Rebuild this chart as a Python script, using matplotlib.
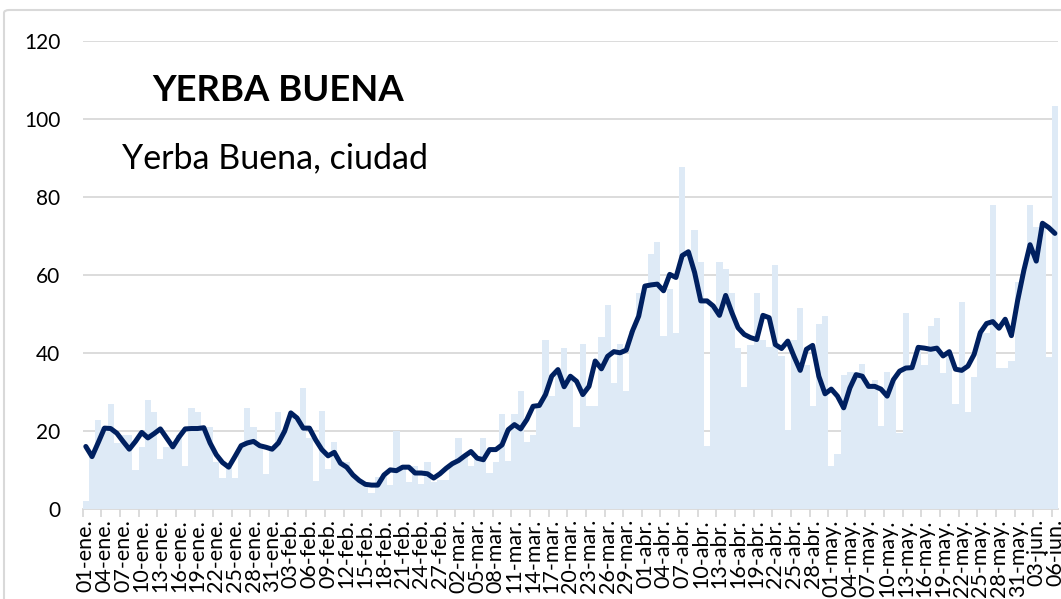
import matplotlib
matplotlib.use("Agg")
import matplotlib.pyplot as plt
from matplotlib.patches import FancyBboxPatch
import numpy as np
import datetime as dt

# ---------------- data ----------------
start = dt.date(2021, 1, 1)
n_days = 157
meses = ["ene", "feb", "mar", "abr", "may", "jun"]
dates = [start + dt.timedelta(days=k) for k in range(n_days)]
date_labels = [f"{d.day:02d}-{meses[d.month-1]}." for d in dates]

casos = [
    2, 14, 23, 21, 27, 17, 19, 19, 10, 16, 28, 25, 13, 16, 16, 19, 11, 26, 25, 21,
    21, 12, 8, 11, 8, 16, 26, 21, 16, 9, 15,
    25, 20, 24.5, 23, 31, 18.3, 7.2, 25.3, 10.3, 17.2, 12.5, 12, 9, 7.5, 6.4, 4.1, 8.2, 9, 6.3,
    20, 10.8, 7.1, 11, 6.5, 12.1, 7, 7.4, 7.4,
    11.5, 18.3, 13.5, 11.2, 13, 18.3, 9.3, 12.1, 24.3, 12.3, 24.3, 30.2, 17.2, 19.1, 26.5, 43.4,
    29.1, 35.8, 41.4, 34, 21.2, 42.4, 26.4, 26.4, 44.2, 52.4, 32.4, 42.4, 30.2, 45.7, 55.4,
    57.2, 65.4, 68.6, 44.4, 56.4, 45.2, 87.7, 66, 71.6, 63.4, 16.3, 52.1, 63.4, 61.5, 55.4,
    41.4, 31.3, 42.2, 55.4, 43.5, 41.6, 62.6, 39.2, 20.2, 43.5, 51.5, 37.1, 26.4, 47.4, 49.5,
    11.1, 14.2, 34.3, 35.2, 35.2, 37.3, 31.5, 33.2, 21.3, 35.2, 33.2, 19.5, 50.3, 36.3, 41.5,
    37.0, 47.0, 49.0, 35.0, 40.4, 26.9, 53.0, 25.0, 33.9, 45.3, 45.1, 78.1, 36.1, 36.1, 38.0,
    58.2,
    61.2, 78.1, 72.3, 73.3, 38.9, 103.3,
]

promedio = [
    16.1, 13.5, 17.1, 20.8, 20.7, 19.5, 17.4, 15.4, 17.4, 19.7, 18.3, 19.4, 20.6, 18.3, 16.0,
    18.5, 20.6, 20.7, 20.7, 20.9, 17.0, 14.0, 12.0, 10.8, 13.5, 16.3, 17.0, 17.4, 16.3, 15.9,
    15.4,
    17.0, 20.0, 24.7, 23.4, 20.8, 20.8, 17.8, 15.3, 13.7, 14.6, 11.8, 10.8, 8.8, 7.4, 6.4,
    6.2, 6.2, 8.8, 10.1, 9.9, 10.8, 10.8, 9.3, 9.3, 9.1, 8.0, 9.1, 10.5,
    11.7, 12.5, 13.7, 14.8, 13.1, 12.7, 15.3, 15.3, 16.5, 20.4, 21.7, 20.6, 23.0, 26.4, 26.6,
    29.4, 34.1, 35.8, 31.4, 34.1, 32.8, 29.4, 31.5, 38.0, 36.0, 39.2, 40.4, 40.1, 40.8, 45.7,
    49.5,
    57.2, 57.5, 57.7, 56.0, 60.2, 59.4, 65.0, 66.0, 60.7, 53.4, 53.4, 52.1, 49.7, 54.8, 50.4,
    46.5, 44.8, 44.0, 43.5, 49.7, 49.1, 42.2, 41.2, 43.1, 39.2, 35.6, 41.0, 42.0, 34.1, 29.6,
    30.8, 29.0, 26.0, 31.1, 34.5, 34.1, 31.5, 31.5, 30.8, 29.0, 33.2, 35.4, 36.2, 36.3, 41.5,
    41.3, 41.0, 41.3, 39.3, 40.4, 35.9, 35.6, 36.7, 39.7, 45.3, 47.6, 48.1, 46.4, 48.7, 44.5,
    53.5,
    61.2, 67.8, 63.6, 73.3, 72.2, 70.7,
]

y_ticks = [0, 20, 40, 60, 80, 100, 120]
titulo = "YERBA BUENA"
subtitulo = "Yerba Buena, ciudad"

# ---------------- figure ----------------
W, H = 1061, 599
fig = plt.figure(figsize=(W / 100, H / 100), dpi=100)
fig.patch.set_facecolor("white")

# outer chart border
frame = FancyBboxPatch((4 / W, -0.05), 1.1, (H - 10) / H + 0.05,
                       boxstyle="round,pad=0,rounding_size=0.005",
                       transform=fig.transFigure, fill=False,
                       edgecolor="#d9d9d9", linewidth=1.5, zorder=0)
fig.patches.append(frame)

left, right = 82.7 / W, 1058 / W
bottom, top = 1 - 509.3 / H, 1 - 41 / H
ax = fig.add_axes([left, bottom, right - left, top - bottom])

x = np.arange(n_days)
ax.bar(x, casos, width=1.0, color="#deeaf6", edgecolor="none", zorder=2)
ax.plot(x, promedio, color="#002060", linewidth=3.6, solid_joinstyle="round",
        solid_capstyle="round", zorder=3)

ax.set_xlim(-0.5, n_days - 0.5)
ax.set_ylim(0, 120)
ax.set_yticks(y_ticks)
ax.yaxis.grid(True, color="#d9d9d9", linewidth=1.3, zorder=1)
ax.set_axisbelow(True)
for s in ["top", "right", "left"]:
    ax.spines[s].set_visible(False)
ax.spines["bottom"].set_color("#d9d9d9")
ax.spines["bottom"].set_linewidth(1.3)
ax.spines["bottom"].set_zorder(1)

font = "Lato"
ax.tick_params(axis="y", length=0, pad=16, labelsize=15, labelcolor="black")
for lab in ax.get_yticklabels():
    lab.set_fontfamily(font)

# x ticks: labels every 3 days, tick marks at category boundaries
lab_idx = np.arange(0, n_days, 3)
ax.set_xticks(lab_idx)
ax.set_xticklabels([date_labels[k] for k in lab_idx], rotation=90,
                   fontsize=15.5, fontfamily=font, va="top", ha="center")
ax.tick_params(axis="x", length=0, pad=7)
ax.set_xticks(lab_idx - 0.5, minor=True)
ax.tick_params(axis="x", which="minor", length=6, color="#d9d9d9", width=1.3)

fig.text(152 / W, 1 - 101 / H, titulo, fontsize=26.3, fontweight="bold",
         fontfamily=font, ha="left", va="baseline")
fig.text(122 / W, 1 - 168 / H, subtitulo, fontsize=24.5,
         fontfamily=font, ha="left", va="baseline")

fig.savefig("out.png", dpi=100)
